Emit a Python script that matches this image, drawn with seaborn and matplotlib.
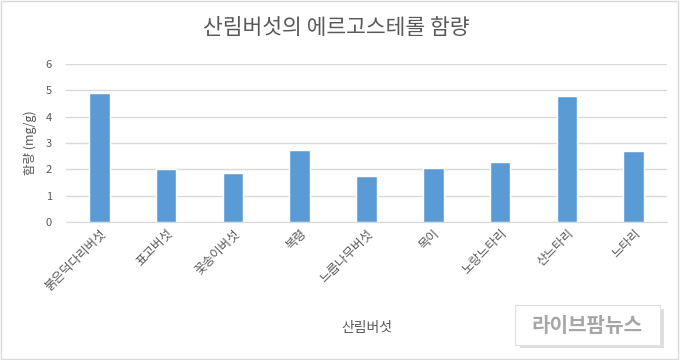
import pandas as pd
import seaborn as sns
import matplotlib.pyplot as plt
from matplotlib.patches import Rectangle


# Data

mushrooms = ["붉은덕다리버섯", "표고버섯", "꽃송이버섯", "복령", "느릅나무버섯",
             "목이", "노랑느타리", "산느타리", "느타리"]
ergosterol = [4.9, 2.0, 1.85, 2.75, 1.75, 2.05, 2.3, 4.8, 2.7]
y_ticks = [0, 1, 2, 3, 4, 5, 6]

df = pd.DataFrame({"mushroom": mushrooms, "ergosterol": ergosterol})


# Style

sns.set_style("white")
plt.rcParams['font.family'] = ['Noto Sans CJK KR', 'DejaVu Sans']

text_gray = "#595959"

fig = plt.figure(figsize=(6.8, 3.6), dpi=100)
ax = fig.add_axes([0.097, 0.383, 0.884, 0.439])

sns.barplot(data=df, x="mushroom", y="ergosterol", color="#5B9BD5",
            width=0.31, saturation=1, ax=ax, zorder=3)

ax.set_ylim(0, 6)
ax.set_yticks(y_ticks)
ax.set_xlim(-0.5, len(mushrooms) - 0.5)
ax.yaxis.grid(True, color="#D9D9D9", linewidth=1, zorder=0)
for s in ["top", "right", "left"]:
    ax.spines[s].set_visible(False)
ax.spines["bottom"].set_color("#D9D9D9")
ax.tick_params(axis="both", length=0, colors=text_gray, labelsize=8)
ax.tick_params(axis="y", pad=10)

for lab in ax.get_xticklabels():
    lab.set_rotation(45)
    lab.set_ha("right")
    lab.set_rotation_mode("anchor")
    lab.set_fontsize(9)

ax.set_xlabel("")
ax.set_ylabel("함량 (mg/g)", color=text_gray, fontsize=9, labelpad=6)

# x axis title sits centred under the plot area
fig.text(0.539, 0.088, "산림버섯", ha="center", va="center",
         color=text_gray, fontsize=10)

fig.text(0.495, 0.922, "산림버섯의 에르고스테롤 함량", ha="center", va="center",
         color=text_gray, fontsize=15.5)

# Watermark box
shadow = Rectangle((0.764, 0.032), 0.213, 0.11, transform=fig.transFigure,
                   facecolor="#c8c8c8", edgecolor="none", alpha=0.6)
box = Rectangle((0.757, 0.042), 0.213, 0.11, transform=fig.transFigure,
                facecolor="white", edgecolor="#e0e0e0", linewidth=0.8)
fig.patches.extend([shadow, box])
fig.text(0.863, 0.097, "라이브팜뉴스", ha="center", va="center",
         color="#a6a6a6", fontsize=14.5, fontweight="bold")

# Border
fig.patches.append(Rectangle((0.002, 0.003), 0.995, 0.994, transform=fig.transFigure,
                             facecolor="none", edgecolor="#d9d9d9", linewidth=1))

fig.savefig("out.png", dpi=100)
